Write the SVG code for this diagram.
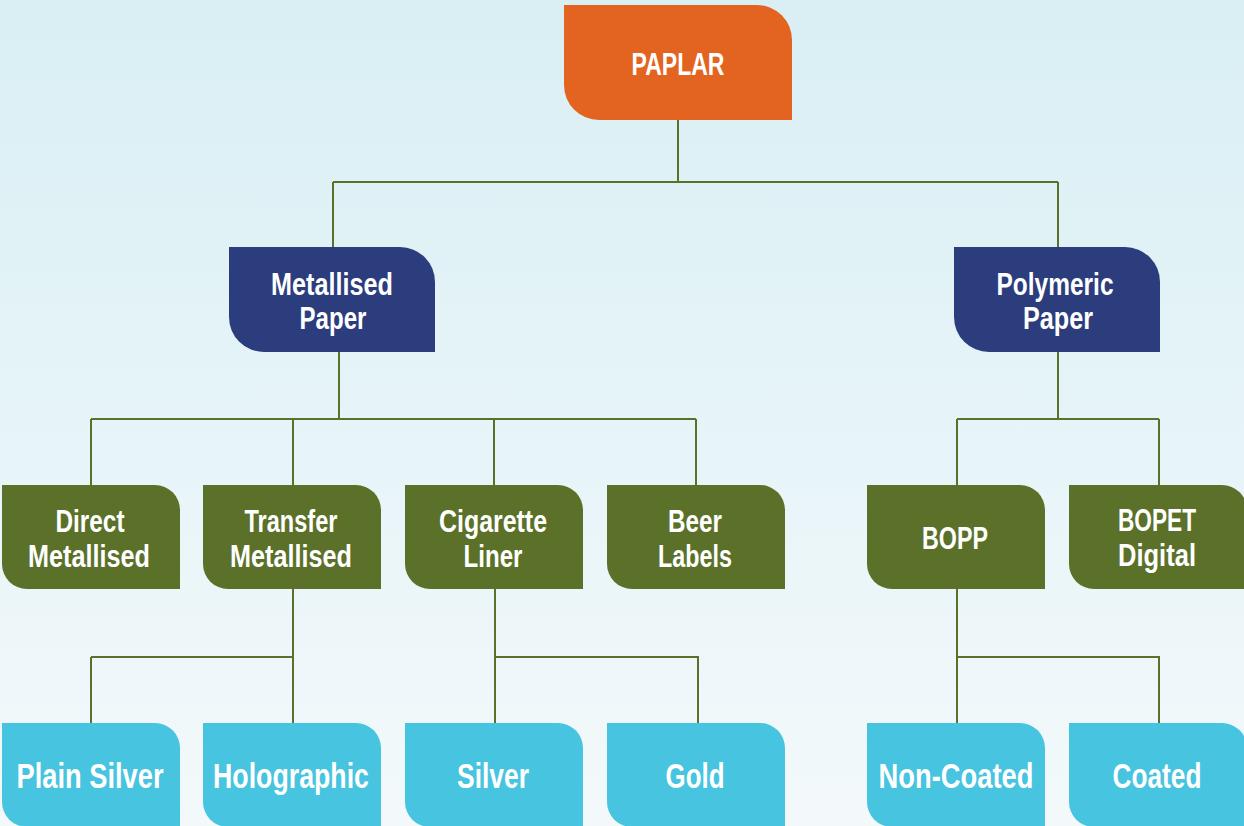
<svg xmlns="http://www.w3.org/2000/svg" width="1244" height="826" viewBox="0 0 1244 826">
<defs>
<linearGradient id="bg" x1="0" y1="0" x2="0" y2="1">
<stop offset="0" stop-color="#D9EFF4"/>
<stop offset="1" stop-color="#F3F9FB"/>
</linearGradient>
</defs>
<style>
.t{font-family:"Liberation Sans Narrow","Liberation Sans",Arial,sans-serif;font-weight:bold;fill:#FFFFFF;text-anchor:middle}
.s{font-size:32px}
.b{font-size:35px}
.orange{fill:#E36420}
.navy{fill:#2B3D7C}
.olive{fill:#5B7129}
.cyan{fill:#47C4E0}
.c{fill:none;stroke:#5B7129;stroke-width:2}
</style>
<rect x="0" y="0" width="1244" height="826" fill="url(#bg)"/>
<g id="connectors">
<path class="c" d="M678,120 V182 M333,182 H1058 M333,182 V247 M1058,182 V247"/>
<path class="c" d="M339,352 V419 M91,419 H696 M91,419 V485 M293,419 V485 M494,419 V485 M696,419 V485"/>
<path class="c" d="M1058,352 V419 M957,419 H1159 M957,419 V485 M1159,419 V485"/>
<path class="c" d="M293,589 V723 M91,657 H293 M91,657 V723"/>
<path class="c" d="M495,589 V723 M495,657 H698 V723"/>
<path class="c" d="M957,589 V723 M957,657 H1159 V723"/>
</g>
<g id="paplar">
<path class="orange" d="M564,5 H757 A35,35 0 0 1 792,40 V120 H599 A35,35 0 0 1 564,85 Z"/>
<text class="t s" x="678" y="75" textLength="93" lengthAdjust="spacingAndGlyphs">PAPLAR</text>
</g>
<g id="metallised-paper">
<path class="navy" d="M229,247 H400 A35,35 0 0 1 435,282 V352 H264 A35,35 0 0 1 229,317 Z"/>
<text class="t s" x="332" y="295" textLength="122" lengthAdjust="spacingAndGlyphs">Metallised</text>
<text class="t s" x="333" y="329" textLength="67" lengthAdjust="spacingAndGlyphs">Paper</text>
</g>
<g id="polymeric-paper">
<path class="navy" d="M954,247 H1125 A35,35 0 0 1 1160,282 V352 H989 A35,35 0 0 1 954,317 Z"/>
<text class="t s" x="1055" y="295" textLength="117" lengthAdjust="spacingAndGlyphs">Polymeric</text>
<text class="t s" x="1058" y="329" textLength="70" lengthAdjust="spacingAndGlyphs">Paper</text>
</g>
<g id="direct-metallised">
<path class="olive" d="M2,485 H155 A25,25 0 0 1 180,510 V589 H27 A25,25 0 0 1 2,564 Z"/>
<text class="t s" x="90" y="532" textLength="69" lengthAdjust="spacingAndGlyphs">Direct</text>
<text class="t s" x="89" y="567" textLength="122" lengthAdjust="spacingAndGlyphs">Metallised</text>
</g>
<g id="transfer-metallised">
<path class="olive" d="M203,485 H356 A25,25 0 0 1 381,510 V589 H228 A25,25 0 0 1 203,564 Z"/>
<text class="t s" x="291" y="532" textLength="93" lengthAdjust="spacingAndGlyphs">Transfer</text>
<text class="t s" x="291" y="567" textLength="122" lengthAdjust="spacingAndGlyphs">Metallised</text>
</g>
<g id="cigarette-liner">
<path class="olive" d="M405,485 H558 A25,25 0 0 1 583,510 V589 H430 A25,25 0 0 1 405,564 Z"/>
<text class="t s" x="493" y="532" textLength="108" lengthAdjust="spacingAndGlyphs">Cigarette</text>
<text class="t s" x="493" y="567" textLength="59" lengthAdjust="spacingAndGlyphs">Liner</text>
</g>
<g id="beer-labels">
<path class="olive" d="M607,485 H760 A25,25 0 0 1 785,510 V589 H632 A25,25 0 0 1 607,564 Z"/>
<text class="t s" x="695" y="532" textLength="54" lengthAdjust="spacingAndGlyphs">Beer</text>
<text class="t s" x="695" y="567" textLength="74" lengthAdjust="spacingAndGlyphs">Labels</text>
</g>
<g id="bopp">
<path class="olive" d="M867,485 H1020 A25,25 0 0 1 1045,510 V589 H892 A25,25 0 0 1 867,564 Z"/>
<text class="t s" x="955" y="549" textLength="66" lengthAdjust="spacingAndGlyphs">BOPP</text>
</g>
<g id="bopet-digital">
<path class="olive" d="M1069,485 H1222 A25,25 0 0 1 1247,510 V589 H1094 A25,25 0 0 1 1069,564 Z"/>
<text class="t s" x="1157" y="531" textLength="78" lengthAdjust="spacingAndGlyphs">BOPET</text>
<text class="t s" x="1157" y="566" textLength="78" lengthAdjust="spacingAndGlyphs">Digital</text>
</g>
<g id="plain-silver">
<path class="cyan" d="M2,723 H155 A25,25 0 0 1 180,748 V827 H27 A25,25 0 0 1 2,802 Z"/>
<text class="t b" x="90" y="788" textLength="147" lengthAdjust="spacingAndGlyphs">Plain Silver</text>
</g>
<g id="holographic">
<path class="cyan" d="M203,723 H356 A25,25 0 0 1 381,748 V827 H228 A25,25 0 0 1 203,802 Z"/>
<text class="t b" x="291" y="788" textLength="156" lengthAdjust="spacingAndGlyphs">Holographic</text>
</g>
<g id="silver">
<path class="cyan" d="M405,723 H558 A25,25 0 0 1 583,748 V827 H430 A25,25 0 0 1 405,802 Z"/>
<text class="t b" x="493" y="788" textLength="72" lengthAdjust="spacingAndGlyphs">Silver</text>
</g>
<g id="gold">
<path class="cyan" d="M607,723 H760 A25,25 0 0 1 785,748 V827 H632 A25,25 0 0 1 607,802 Z"/>
<text class="t b" x="695" y="788" textLength="59" lengthAdjust="spacingAndGlyphs">Gold</text>
</g>
<g id="non-coated">
<path class="cyan" d="M867,723 H1020 A25,25 0 0 1 1045,748 V827 H892 A25,25 0 0 1 867,802 Z"/>
<text class="t b" x="956" y="788" textLength="155" lengthAdjust="spacingAndGlyphs">Non-Coated</text>
</g>
<g id="coated">
<path class="cyan" d="M1069,723 H1222 A25,25 0 0 1 1247,748 V827 H1094 A25,25 0 0 1 1069,802 Z"/>
<text class="t b" x="1157" y="788" textLength="89" lengthAdjust="spacingAndGlyphs">Coated</text>
</g>
</svg>
